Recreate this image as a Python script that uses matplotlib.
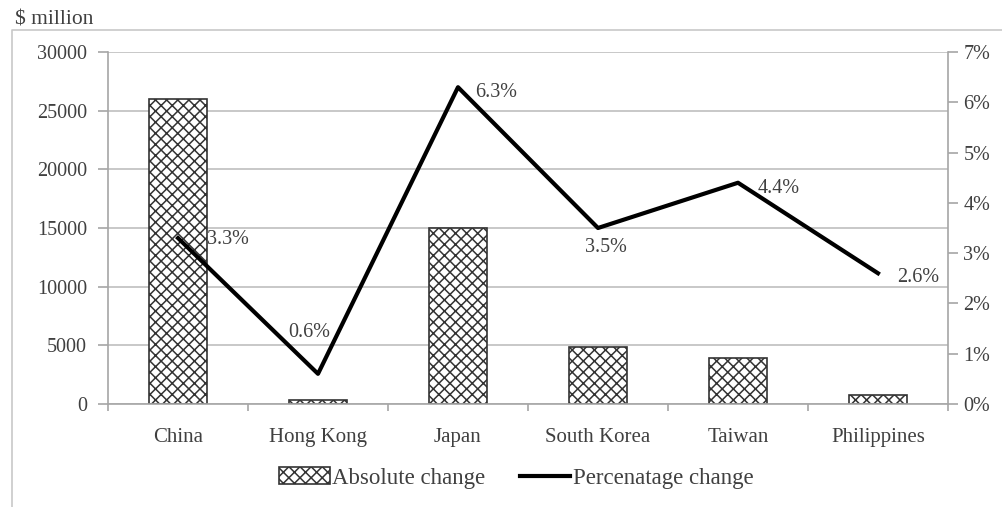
import numpy as np
import matplotlib.pyplot as plt
from matplotlib.lines import Line2D
from matplotlib.patches import Patch

plt.rcParams['font.family'] = ['Liberation Serif', 'DejaVu Serif']
plt.rcParams['hatch.linewidth'] = 1.1

countries = ["China", "Hong Kong", "Japan", "South Korea", "Taiwan", "Philippines"]
absolute_change = [26000, 300, 15000, 4850, 3900, 800]
percent_change = [3.3, 0.6, 6.3, 3.5, 4.4, 2.6]
pct_labels = ["3.3%", "0.6%", "6.3%", "3.5%", "4.4%", "2.6%"]
# label offsets in points (dx, dy) and alignment
label_pos = [(21, -1, 'left'), (-6, 30, 'center'), (12, -4, 'left'),
             (6, -14, 'center'), (14, -4, 'left'), (14, -3, 'left')]

txt = '#404040'
axis_c = '#a6a6a6'
fs = 14.5

fig = plt.figure(figsize=(10.02, 5.07), dpi=100)
ax = fig.add_axes([108/1002, 1 - 404/507, 840/1002, 352/507])
x = np.arange(len(countries))

ax.bar(x, absolute_change, width=0.42, facecolor='white', edgecolor='#333333',
       hatch='xxx', linewidth=1.2, zorder=2)
ax.set_ylim(0, 30000)
ax.set_xlim(-0.5, len(countries) - 0.5)
ax.set_yticks(np.arange(0, 30001, 5000))
ax.set_yticklabels([str(v) for v in range(0, 30001, 5000)], fontsize=fs, color=txt)
ax.yaxis.grid(True, color='#bfbfbf', linewidth=1.2, zorder=0)
ax.set_axisbelow(True)
ax.set_xticks(x)
ax.set_xticklabels(countries, fontsize=15, color=txt)
ax.tick_params(axis='x', length=0, pad=17)
ax.set_xticks(np.arange(-0.5, len(countries)), minor=True)
ax.tick_params(axis='x', which='minor', length=5, color=axis_c, width=1.2)
ax.tick_params(axis='y', length=7, color=axis_c, width=1.2, pad=8)
for s in ['top', 'right']:
    ax.spines[s].set_visible(False)
ax.spines['left'].set_color(axis_c)
ax.spines['bottom'].set_color(axis_c)
ax.spines['left'].set_linewidth(1.2)
ax.spines['bottom'].set_linewidth(1.2)

ax2 = ax.twinx()
ax2.plot(x, percent_change, color='black', linewidth=3, zorder=3)
ax2.set_ylim(0, 7)
ax2.set_yticks(range(0, 8))
ax2.set_yticklabels([f"{v}%" for v in range(0, 8)], fontsize=fs, color=txt)
ax2.tick_params(axis='y', length=7, color=axis_c, width=1.2, pad=4)
for s in ['top', 'left', 'bottom']:
    ax2.spines[s].set_visible(False)
ax2.spines['right'].set_color(axis_c)
ax2.spines['right'].set_linewidth(1.2)

for xi, yi, lab, (dx, dy, ha) in zip(x, percent_change, pct_labels, label_pos):
    ax2.annotate(lab, (xi, yi), xytext=(dx, dy), textcoords='offset points',
                 ha=ha, va='center', fontsize=fs, color=txt)

fig.text(15/1002, 1 - 20/507, "$ million", fontsize=15.5, color=txt, va='center')

# outer frame
fig.add_artist(Line2D([12/1002, 12/1002, 1.0], [0.0, 1 - 30/507, 1 - 30/507],
                      transform=fig.transFigure, color='#c8c8c8', linewidth=1.2))

handles = [Patch(facecolor='white', edgecolor='#333333', hatch='xxx', linewidth=1.2),
           Line2D([0], [0], color='black', linewidth=3)]
fig.legend(handles, ["Absolute change", "Percenatage change"], loc='center',
           bbox_to_anchor=(0.5155, 1 - 478/507), ncol=2, frameon=False,
           fontsize=16.5, labelcolor=txt, handlelength=2.2, handletextpad=0.12,
           columnspacing=1.5)

fig.savefig("out.png", dpi=100)
